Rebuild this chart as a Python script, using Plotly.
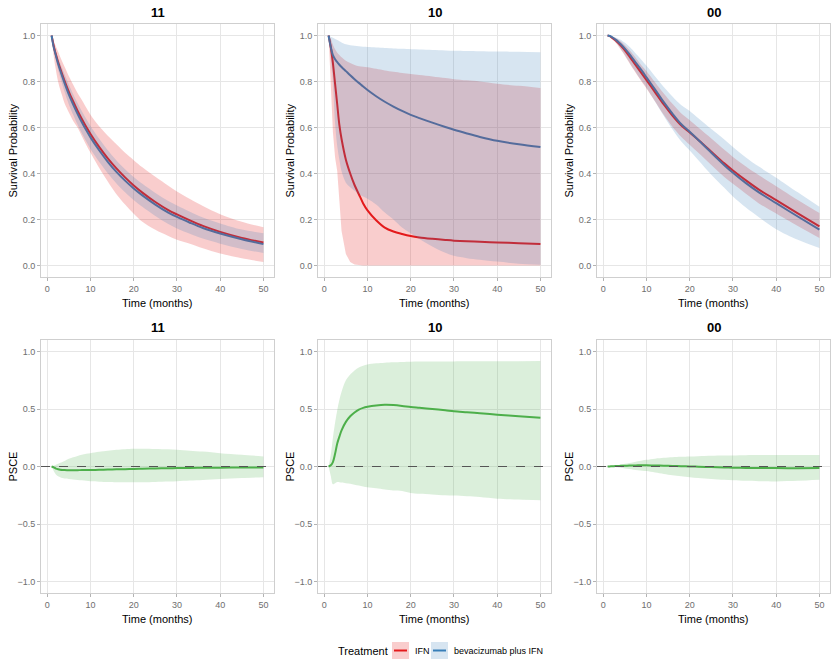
import plotly.graph_objects as go

# ---------------- data ----------------
T = [1, 1.5, 2, 2.5, 3, 3.5, 4, 5, 6, 7, 8, 9, 10, 12, 14, 16, 18, 20, 22, 25, 28, 30, 33, 36, 40, 45, 50]

panel_titles = ["11", "10", "00"]
treatments = ["IFN", "bevacizumab plus IFN"]

# stratum 11
s11_ifn = [1.0, 0.953, 0.917, 0.885, 0.856, 0.829, 0.803, 0.755, 0.713, 0.673, 0.637, 0.603, 0.572, 0.516, 0.466, 0.422, 0.383, 0.348, 0.317, 0.276, 0.241, 0.222, 0.196, 0.172, 0.146, 0.120, 0.100]
s11_ifn_hi = [1.0, 0.976, 0.952, 0.93, 0.907, 0.885, 0.864, 0.823, 0.786, 0.75, 0.72, 0.687, 0.655, 0.605, 0.564, 0.527, 0.49, 0.458, 0.427, 0.386, 0.347, 0.322, 0.289, 0.259, 0.223, 0.19, 0.166]
s11_ifn_lo = [1.0, 0.91, 0.85, 0.8, 0.765, 0.735, 0.705, 0.665, 0.628, 0.6, 0.562, 0.525, 0.49, 0.425, 0.365, 0.31, 0.265, 0.225, 0.19, 0.155, 0.128, 0.112, 0.095, 0.075, 0.052, 0.032, 0.015]
s11_bev = [1.0, 0.949, 0.912, 0.877, 0.848, 0.82, 0.793, 0.743, 0.70, 0.66, 0.623, 0.589, 0.557, 0.501, 0.451, 0.407, 0.369, 0.335, 0.305, 0.265, 0.23, 0.211, 0.186, 0.163, 0.139, 0.114, 0.093]
s11_bev_hi = [1.0, 0.959, 0.932, 0.902, 0.878, 0.855, 0.831, 0.786, 0.745, 0.707, 0.671, 0.638, 0.607, 0.551, 0.501, 0.457, 0.419, 0.385, 0.355, 0.315, 0.28, 0.261, 0.234, 0.209, 0.183, 0.156, 0.14]
s11_bev_lo = [1.0, 0.939, 0.892, 0.852, 0.818, 0.785, 0.755, 0.70, 0.655, 0.613, 0.575, 0.54, 0.507, 0.451, 0.401, 0.357, 0.319, 0.285, 0.255, 0.215, 0.18, 0.161, 0.138, 0.117, 0.095, 0.072, 0.054]

# stratum 10
s10_ifn = [1.0, 0.95, 0.88, 0.79, 0.70, 0.61, 0.55, 0.46, 0.40, 0.35, 0.31, 0.27, 0.24, 0.197, 0.165, 0.148, 0.137, 0.128, 0.122, 0.116, 0.111, 0.108, 0.105, 0.103, 0.100, 0.097, 0.094]
s10_ifn_hi = [1.0, 0.985, 0.96, 0.94, 0.925, 0.915, 0.905, 0.89, 0.88, 0.872, 0.866, 0.864, 0.862, 0.855, 0.848, 0.842, 0.837, 0.833, 0.828, 0.822, 0.815, 0.81, 0.805, 0.8, 0.79, 0.781, 0.772]
s10_ifn_lo = [1.0, 0.8, 0.58, 0.47, 0.41, 0.28, 0.15, 0.05, 0.015, 0.004, 0.001, 0.0, 0.0, 0.0, 0.0, 0.0, 0.0, 0.0, 0.0, 0.0, 0.0, 0.0, 0.0, 0.0, 0.0, 0.0, 0.0]
s10_bev = [1.0, 0.95, 0.915, 0.897, 0.884, 0.873, 0.863, 0.845, 0.827, 0.81, 0.794, 0.778, 0.763, 0.736, 0.712, 0.691, 0.672, 0.655, 0.641, 0.621, 0.602, 0.59, 0.574, 0.559, 0.542, 0.527, 0.515]
s10_bev_hi = [1.0, 0.995, 0.99, 0.985, 0.98, 0.975, 0.97, 0.962, 0.958, 0.955, 0.953, 0.951, 0.95, 0.948, 0.946, 0.944, 0.942, 0.94, 0.939, 0.937, 0.935, 0.934, 0.933, 0.932, 0.93, 0.929, 0.927]
s10_bev_lo = [1.0, 0.9, 0.8, 0.62, 0.52, 0.46, 0.41, 0.36, 0.34, 0.325, 0.31, 0.30, 0.29, 0.265, 0.23, 0.20, 0.165, 0.14, 0.115, 0.083, 0.055, 0.042, 0.032, 0.025, 0.017, 0.008, 0.003]

# stratum 00
s00_ifn = [1.0, 0.997, 0.991, 0.984, 0.976, 0.967, 0.957, 0.935, 0.91, 0.884, 0.858, 0.832, 0.806, 0.753, 0.70, 0.652, 0.61, 0.578, 0.546, 0.495, 0.444, 0.413, 0.37, 0.33, 0.284, 0.227, 0.17]
s00_ifn_hi = [1.0, 0.999, 0.996, 0.992, 0.987, 0.981, 0.975, 0.958, 0.938, 0.915, 0.891, 0.866, 0.845, 0.796, 0.748, 0.703, 0.662, 0.632, 0.6, 0.552, 0.503, 0.472, 0.43, 0.392, 0.345, 0.285, 0.228]
s00_ifn_lo = [1.0, 0.995, 0.986, 0.976, 0.965, 0.953, 0.94, 0.912, 0.882, 0.852, 0.824, 0.796, 0.77, 0.713, 0.655, 0.603, 0.56, 0.525, 0.49, 0.437, 0.385, 0.355, 0.312, 0.27, 0.226, 0.172, 0.12]
s00_bev = [1.0, 0.998, 0.993, 0.987, 0.98, 0.972, 0.963, 0.943, 0.92, 0.895, 0.87, 0.845, 0.818, 0.765, 0.71, 0.66, 0.615, 0.582, 0.546, 0.49, 0.436, 0.403, 0.358, 0.318, 0.271, 0.213, 0.156]
s00_bev_hi = [1.0, 0.999, 0.997, 0.994, 0.99, 0.986, 0.981, 0.968, 0.952, 0.933, 0.912, 0.89, 0.868, 0.822, 0.776, 0.735, 0.698, 0.672, 0.64, 0.593, 0.548, 0.515, 0.47, 0.43, 0.382, 0.318, 0.255]
s00_bev_lo = [1.0, 0.996, 0.988, 0.978, 0.968, 0.956, 0.943, 0.915, 0.885, 0.855, 0.826, 0.8, 0.773, 0.712, 0.65, 0.592, 0.54, 0.5, 0.458, 0.395, 0.338, 0.3, 0.252, 0.21, 0.158, 0.112, 0.076]

# PSCE
psce11 = [0, -0.008, -0.018, -0.024, -0.028, -0.03, -0.031, -0.032, -0.032, -0.032, -0.031, -0.031, -0.03, -0.029, -0.027, -0.025, -0.023, -0.021, -0.019, -0.017, -0.015, -0.014, -0.012, -0.011, -0.01, -0.009, -0.008]
psce11_hi = [0, 0.008, 0.016, 0.024, 0.032, 0.04, 0.048, 0.067, 0.08, 0.092, 0.102, 0.11, 0.116, 0.128, 0.138, 0.146, 0.151, 0.154, 0.155, 0.153, 0.149, 0.146, 0.138, 0.13, 0.116, 0.102, 0.088]
psce11_lo = [0, -0.04, -0.07, -0.085, -0.093, -0.1, -0.104, -0.108, -0.113, -0.117, -0.12, -0.124, -0.128, -0.132, -0.134, -0.136, -0.137, -0.137, -0.136, -0.134, -0.131, -0.128, -0.122, -0.117, -0.108, -0.1, -0.093]

psce10 = [0, 0.01, 0.038, 0.11, 0.2, 0.26, 0.315, 0.388, 0.437, 0.47, 0.495, 0.51, 0.519, 0.53, 0.536, 0.534, 0.527, 0.518, 0.511, 0.5, 0.489, 0.481, 0.472, 0.463, 0.451, 0.437, 0.423]
psce10_hi = [0, 0.1, 0.25, 0.38, 0.49, 0.58, 0.65, 0.75, 0.8, 0.835, 0.86, 0.876, 0.887, 0.897, 0.903, 0.906, 0.909, 0.911, 0.912, 0.913, 0.914, 0.914, 0.915, 0.915, 0.916, 0.916, 0.917]
psce10_lo = [0, -0.08, -0.155, -0.145, -0.135, -0.137, -0.14, -0.145, -0.15, -0.158, -0.166, -0.173, -0.18, -0.19, -0.2, -0.208, -0.213, -0.23, -0.237, -0.243, -0.25, -0.253, -0.258, -0.265, -0.28, -0.287, -0.294]

psce00 = [0, 0.001, 0.002, 0.003, 0.004, 0.005, 0.006, 0.007, 0.008, 0.009, 0.01, 0.01, 0.01, 0.009, 0.007, 0.005, 0.003, 0.001, -0.002, -0.005, -0.008, -0.01, -0.012, -0.013, -0.014, -0.015, -0.014]
psce00_hi = [0, 0.002, 0.004, 0.007, 0.01, 0.013, 0.016, 0.023, 0.03, 0.038, 0.045, 0.052, 0.058, 0.068, 0.075, 0.08, 0.084, 0.087, 0.09, 0.093, 0.095, 0.096, 0.098, 0.099, 0.1, 0.1, 0.1]
psce00_lo = [0, -0.001, -0.002, -0.004, -0.006, -0.008, -0.01, -0.017, -0.022, -0.028, -0.033, -0.037, -0.04, -0.053, -0.065, -0.076, -0.085, -0.093, -0.1, -0.109, -0.116, -0.12, -0.125, -0.128, -0.13, -0.125, -0.116]

x_ticks = [0, 10, 20, 30, 40, 50]
surv_ticks = [0.0, 0.2, 0.4, 0.6, 0.8, 1.0]
psce_ticks = [-1.0, -0.5, 0.0, 0.5, 1.0]

# ---------------- styles ----------------
RED = "#E41A1C"
BLUE = "#377EB8"
GREEN = "#4DAF4A"
RED_F = "rgba(228,26,28,0.22)"
BLUE_F = "rgba(55,126,184,0.2)"
GREEN_F = "rgba(77,175,74,0.2)"
FONT = "Liberation Sans, Arial, sans-serif"
SPL = dict(shape="spline", smoothing=0.9)

W, H = 836, 664
cols_px = [(41, 274), (318, 551), (597, 830)]
rows_px = [(24, 277), (340, 593)]

fig = go.Figure()

surv = [
    (s11_ifn, s11_ifn_lo, s11_ifn_hi, s11_bev, s11_bev_lo, s11_bev_hi),
    (s10_ifn, s10_ifn_lo, s10_ifn_hi, s10_bev, s10_bev_lo, s10_bev_hi),
    (s00_ifn, s00_ifn_lo, s00_ifn_hi, s00_bev, s00_bev_lo, s00_bev_hi),
]
psce = [(psce11, psce11_lo, psce11_hi), (psce10, psce10_lo, psce10_hi), (psce00, psce00_lo, psce00_hi)]


def ax(i):
    return ("x" if i == 1 else f"x{i}", "y" if i == 1 else f"y{i}")


def band(xa, ya, lo, hi, fc, lo_shape="spline"):
    fig.add_trace(go.Scatter(x=T, y=lo, mode="lines", line=dict(width=0, shape=lo_shape, smoothing=0.9),
                             xaxis=xa, yaxis=ya, showlegend=False, hoverinfo="skip"))
    fig.add_trace(go.Scatter(x=T, y=hi, mode="lines", line=dict(width=0, **SPL), fill="tonexty", fillcolor=fc,
                             xaxis=xa, yaxis=ya, showlegend=False, hoverinfo="skip"))


annotations = []
shapes = []
layout_axes = {}

for c in range(3):
    # top row: survival
    i = c + 1
    xa, ya = ax(i)
    ifn, ifn_lo, ifn_hi, bev, bev_lo, bev_hi = surv[c]
    fig.add_trace(go.Scatter(x=T, y=ifn, mode="lines", name=treatments[0], line=dict(color=RED, width=2, **SPL),
                             xaxis=xa, yaxis=ya, showlegend=False))
    fig.add_trace(go.Scatter(x=T, y=bev, mode="lines", name=treatments[1], line=dict(color=BLUE, width=2, **SPL),
                             xaxis=xa, yaxis=ya, showlegend=False))
    band(xa, ya, ifn_lo, ifn_hi, RED_F, lo_shape="linear" if c == 1 else "spline")
    band(xa, ya, bev_lo, bev_hi, BLUE_F)

    # bottom row: PSCE
    j = c + 4
    xb, yb = ax(j)
    m, lo, hi = psce[c]
    band(xb, yb, lo, hi, GREEN_F)
    fig.add_trace(go.Scatter(x=T, y=m, mode="lines", name="PSCE", line=dict(color=GREEN, width=2, **SPL),
                             xaxis=xb, yaxis=yb, showlegend=False))
    shapes.append(dict(type="line", xref=f"{xb} domain", yref=yb, x0=0, x1=1, y0=0, y1=0,
                       line=dict(color="#555555", width=1, dash="dash")))

    for (idx, r) in ((i, 0), (j, 1)):
        x0, x1 = cols_px[c]
        y0, y1 = rows_px[r]
        xkey = "xaxis" if idx == 1 else f"xaxis{idx}"
        ykey = "yaxis" if idx == 1 else f"yaxis{idx}"
        yname = "y" if idx == 1 else f"y{idx}"
        xname = "x" if idx == 1 else f"x{idx}"
        common = dict(showgrid=True, gridcolor="#E6E6E6", gridwidth=1, zeroline=False,
                      showline=True, linecolor="#CFCFCF", linewidth=1, mirror=True,
                      ticks="outside", ticklen=3, tickcolor="#B3B3B3", tickwidth=1,
                      tickfont=dict(family=FONT, size=9, color="#6E6E6E"))
        layout_axes[xkey] = dict(common, domain=[x0 / W, x1 / W], range=[-1.45, 52.45],
                                 tickvals=x_ticks, anchor=yname)
        if r == 0:
            layout_axes[ykey] = dict(common, domain=[1 - y1 / H, 1 - y0 / H], range=[-0.05, 1.05],
                                     tickvals=surv_ticks, tickformat=".1f", anchor=xname)
        else:
            layout_axes[ykey] = dict(common, domain=[1 - y1 / H, 1 - y0 / H], range=[-1.1, 1.1],
                                     tickvals=psce_ticks, tickformat=".1f", anchor=xname)
        cx = (x0 + x1) / 2 / W
        # panel title
        annotations.append(dict(text=f"<b>{panel_titles[c]}</b>", x=cx, y=1 - (y0 - 12) / H, xref="paper",
                                yref="paper", showarrow=False, xanchor="center", yanchor="middle",
                                font=dict(family=FONT, size=13, color="black")))
        # x title
        annotations.append(dict(text="Time (months)", x=cx, y=1 - (y1 + 26) / H, xref="paper", yref="paper",
                                showarrow=False, xanchor="center", yanchor="middle",
                                font=dict(family=FONT, size=11, color="black")))
        # y title
        annotations.append(dict(text="Survival Probability" if r == 0 else "PSCE",
                                x=(x0 - 29) / W, y=1 - (y0 + y1) / 2 / H, xref="paper", yref="paper",
                                showarrow=False, textangle=-90, xanchor="center", yanchor="middle",
                                font=dict(family=FONT, size=11, color="black")))

# legend (drawn as keys)
ly = 650.5
annotations.append(dict(text="Treatment", x=336 / W, y=1 - ly / H, xref="paper", yref="paper", showarrow=False,
                        xanchor="left", yanchor="middle", font=dict(family=FONT, size=11, color="black")))
for k, (lab, col, fc, kx, tx) in enumerate([(treatments[0], RED, RED_F, 392, 413),
                                              (treatments[1], BLUE, BLUE_F, 431, 452)]):
    shapes.append(dict(type="rect", xref="paper", yref="paper", x0=kx / W, x1=(kx + 17) / W,
                       y0=1 - (ly + 8.5) / H, y1=1 - (ly - 8.5) / H, fillcolor=fc, line=dict(width=0)))
    shapes.append(dict(type="line", xref="paper", yref="paper", x0=(kx + 2) / W, x1=(kx + 15) / W,
                       y0=1 - ly / H, y1=1 - ly / H, line=dict(color=col, width=2)))
    annotations.append(dict(text=lab, x=tx / W, y=1 - ly / H, xref="paper", yref="paper", showarrow=False,
                            xanchor="left", yanchor="middle", font=dict(family=FONT, size=9, color="black")))

fig.update_layout(
    width=W, height=H, margin=dict(l=0, r=0, t=0, b=0),
    paper_bgcolor="white", plot_bgcolor="white",
    showlegend=False, annotations=annotations, shapes=shapes,
    font=dict(family=FONT), **layout_axes,
)

fig.write_html("out.html")
